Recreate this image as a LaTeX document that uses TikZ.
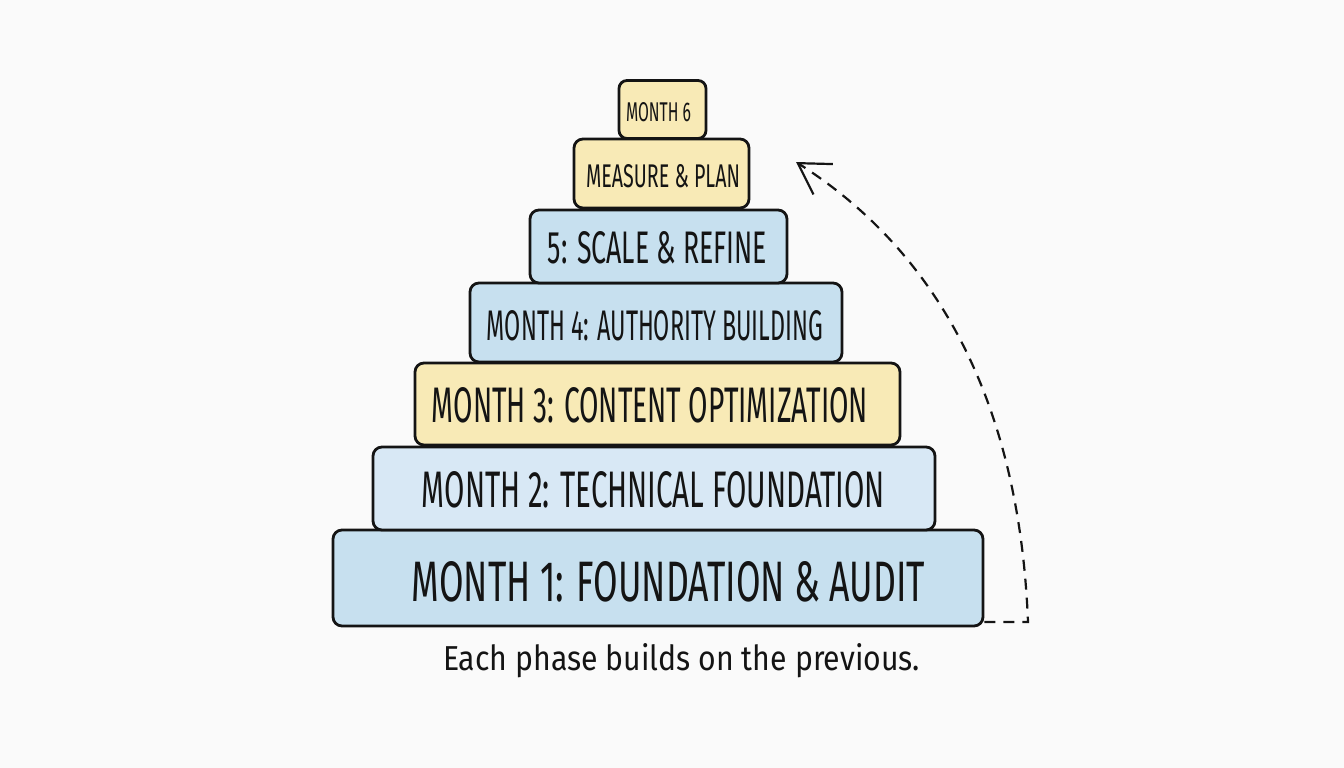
\documentclass[tikz,border=0pt]{standalone}
\usepackage{fontspec}
\setmainfont{Fira Sans}
\usepackage{graphicx}
\usetikzlibrary{arrows.meta}
\definecolor{bg}{HTML}{FAFAFA}
\definecolor{boxblue}{HTML}{C7E0EF}
\definecolor{paleblue}{HTML}{D8E8F5}
\definecolor{boxyellow}{HTML}{F8EAB6}
\definecolor{inkc}{HTML}{141414}
\newcommand{\fitto}[3]{\resizebox{#1pt}{#2pt}{#3}}
\tikzset{
  tier/.style={draw=inkc, line width=2.8pt, rounded corners=9pt, inner sep=0pt},
  lbl/.style={inner sep=0pt, outer sep=0pt, text=inkc},
  flow/.style={draw=inkc, line width=2.2pt, dash pattern=on 11pt off 8pt,
    -{Straight Barb[length=30pt, width=36pt, line width=2.2pt]}}
}
\begin{document}
\begin{tikzpicture}[x=1pt, y=-1pt]
\fill[bg] (0,0) rectangle (1344,768);
\useasboundingbox (0,0) rectangle (1344,768);
% boxes
\node[tier, fill=boxblue, minimum width=650pt, minimum height=96pt] (m1) at (658,578) {};
\node[tier, fill=paleblue, minimum width=562pt, minimum height=83pt] (m2) at (654,488.5) {};
\node[tier, fill=boxyellow, minimum width=485pt, minimum height=82pt] (m3) at (657.5,404) {};
\node[tier, fill=boxblue, minimum width=372pt, minimum height=79pt] (m4) at (656,322.5) {};
\node[tier, fill=boxblue, minimum width=257pt, minimum height=73pt] (m5) at (658.5,246.5) {};
\node[tier, fill=boxyellow, minimum width=175pt, minimum height=69pt] (mp) at (661.5,173.5) {};
\node[tier, fill=boxyellow, minimum width=87pt, minimum height=58pt, rounded corners=8pt] (m6) at (662.5,109.5) {};
% labels
\node[lbl] (t1) at (668.5,582) {\fitto{513}{40}{MONTH 1: FOUNDATION \& AUDIT}};
\node[lbl] (t2) at (653.5,490) {\fitto{463}{36}{MONTH 2: TECHNICAL FOUNDATION}};
\node[lbl] (t3) at (650,405.5) {\fitto{436}{35}{MONTH 3: CONTENT OPTIMIZATION}};
\node[lbl] (t4) at (655,326) {\fitto{336}{30}{MONTH 4: AUTHORITY BUILDING}};
\node[lbl] (t5) at (657.5,248) {\fitto{219}{32}{5: SCALE \& REFINE}};
\node[lbl] (tp) at (663,176.5) {\fitto{154}{23}{MEASURE \& PLAN}};
\node[lbl] (t6) at (658.5,112) {\fitto{65}{19}{MONTH 6}};
\node[lbl, anchor=base west] (cap) at (443,670) {\fitto{477}{27}{Each phase builds on the previous.}};
% progress arrow
\coordinate (turn) at (1028,622);
\coordinate (tip) at (796,162);
\draw[flow] (m1.south east |- turn) -- (turn) .. controls (1020,420) and (950,260) .. (tip);
\end{tikzpicture}
\end{document}
